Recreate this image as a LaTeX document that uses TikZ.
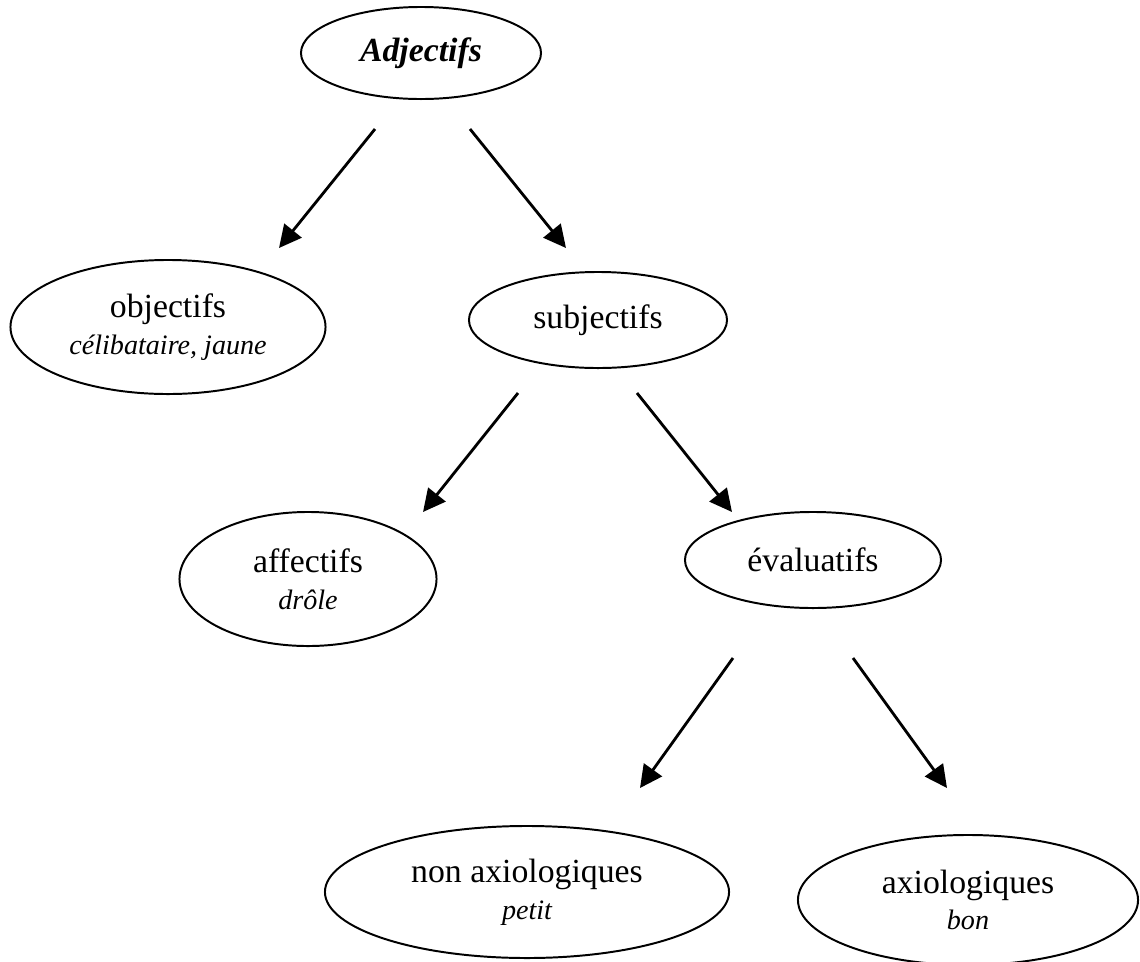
\documentclass[tikz,border=0pt]{standalone}
\usepackage{fontspec}
\setmainfont{Liberation Serif}
\usetikzlibrary{
  shapes.geometric,
  arrows.meta
}
\newcommand\exemple[1]{\\{\fontsize{20}{22}\selectfont\itshape #1}}

\begin{document}
\begin{tikzpicture}[
  x=0.025cm, y=-0.025cm,
  categorie/.style={ellipse, draw, line width=1.4pt, inner sep=0pt, align=center,
    font=\fontsize{24}{26}\selectfont},
  fleche/.style={line width=2pt, -{Triangle[length=0.56cm,width=0.55cm]}}
]
\useasboundingbox (0,0) rectangle (1140,962);
\node[categorie, minimum width=6cm, minimum height=2.3cm] (adj) at (421,53) {\textbf{\textit{Adjectifs}}};
\node[categorie, minimum width=7.875cm, minimum height=3.35cm] (obj) at (168,327) {objectifs\exemple{célibataire, jaune}};
\node[categorie, minimum width=6.45cm, minimum height=2.4cm] (subj) at (598,320) {subjectifs};
\node[categorie, minimum width=6.425cm, minimum height=3.35cm] (aff) at (308,579) {affectifs\exemple{drôle}};
\node[categorie, minimum width=6.4cm, minimum height=2.4cm] (eval) at (813,560) {évaluatifs};
\node[categorie, minimum width=10.1cm, minimum height=3.3cm] (nonaxio) at (527,892) {non axiologiques\exemple{petit}};
\node[categorie, minimum width=8.5cm, minimum height=3.25cm] (axio) at (968,900) {axiologiques\exemple{bon}};
\coordinate (adj-g) at (375,129);
\coordinate (adj-d) at (470,129);
\coordinate (subj-g) at (518,393);
\coordinate (subj-d) at (637,393);
\coordinate (eval-g) at (733,658);
\coordinate (eval-d) at (853,658);
\coordinate (obj-h) at (279,248);
\coordinate (subj-h) at (566,248);
\coordinate (aff-h) at (423,512);
\coordinate (eval-h) at (732,512);
\coordinate (nonaxio-h) at (640,788);
\coordinate (axio-h) at (947,788);
\draw[fleche] (adj-g) -- (obj-h);
\draw[fleche] (adj-d) -- (subj-h);
\draw[fleche] (subj-g) -- (aff-h);
\draw[fleche] (subj-d) -- (eval-h);
\draw[fleche] (eval-g) -- (nonaxio-h);
\draw[fleche] (eval-d) -- (axio-h);
\end{tikzpicture}
\end{document}
